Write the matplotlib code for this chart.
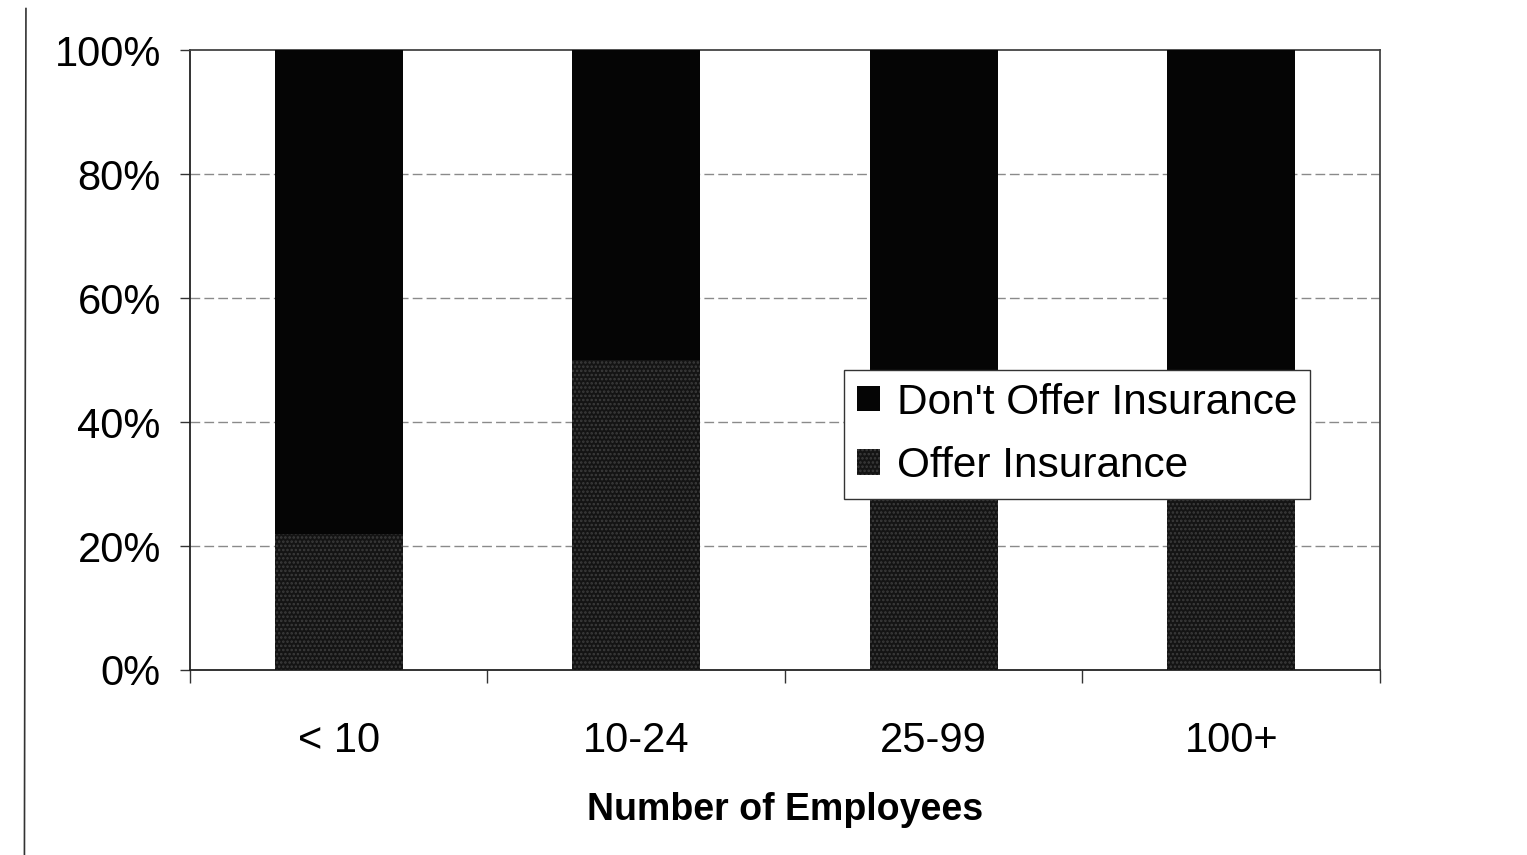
import matplotlib
matplotlib.use("Agg")
import matplotlib.pyplot as plt
import numpy as np
from matplotlib.lines import Line2D

# Share of firms by size class (percent)
categories = ["< 10", "10-24", "25-99", "100+"]
offer_pct = [22, 50, 44, 46]
dont_offer_pct = [100 - v for v in offer_pct]
y_ticks = [0, 20, 40, 60, 80, 100]
y_tick_labels = ["0%", "20%", "40%", "60%", "80%", "100%"]

plt.rcParams["font.family"] = ["Liberation Sans", "DejaVu Sans"]
plt.rcParams["hatch.linewidth"] = 1.2

fig = plt.figure(figsize=(15.27, 8.55), dpi=100)
ax = fig.add_axes([0.1244, 0.2164, 0.7793, 0.7250])

x = np.arange(len(categories))
width = 0.43

# Stacked columns: "offer" at the bottom, "don't offer" on top
b_offer = ax.bar(x, offer_pct, width, color="#141414", edgecolor="#3c3c3c",
                 hatch="....", linewidth=0, label="Offer Insurance", zorder=3)
b_dont = ax.bar(x, dont_offer_pct, width, bottom=offer_pct, color="#050505",
                edgecolor="#050505", linewidth=0, label="Don't Offer Insurance",
                zorder=3)

ax.set_xlim(-0.5, len(categories) - 0.5)
ax.set_ylim(0, 100)

# Gridlines
for yv in y_ticks[1:-1]:
    ax.axhline(yv, color="#8a8a8a", lw=1.0, ls=(0, (7, 3)), zorder=1)

# Frame
for side in ["top", "right", "left", "bottom"]:
    ax.spines[side].set_color("#222222")
    ax.spines[side].set_linewidth(1.3)
ax.spines["top"].set_color("#444444")
ax.spines["right"].set_color("#444444")

# Y axis
ax.set_yticks(y_ticks)
ax.set_yticklabels(y_tick_labels, fontsize=30)
ax.tick_params(axis="y", direction="out", length=7, width=1, pad=14,
               color="#333333")

# X axis: ticks between categories, labels centred below each column
ax.set_xticks(np.arange(len(categories) + 1) - 0.5)
ax.set_xticklabels([])
ax.tick_params(axis="x", which="major", direction="out", length=9, width=1,
               color="#333333")
ax.set_xticks(x, minor=True)
ax.set_xticklabels(categories, minor=True, fontsize=30)
ax.tick_params(axis="x", which="minor", length=0, pad=37)

ax.set_xlabel("Number of Employees", fontsize=27, fontweight="bold",
              labelpad=22)

# Legend
handles = [b_dont, b_offer]
leg = ax.legend(handles, [h.get_label() for h in handles],
                loc="upper left", bbox_to_anchor=(0.550, 0.484),
                fontsize=30.5, frameon=True, fancybox=False, framealpha=1,
                edgecolor="#333333", borderpad=0.3, labelspacing=0.55,
                handlelength=0.55, handleheight=0.55, handletextpad=0.4,
                borderaxespad=0.0)
leg.get_frame().set_linewidth(1.0)
leg.set_zorder(5)

# Page edge line at the far left
fig.add_artist(Line2D([0.017, 0.016], [0.99, 0.0], transform=fig.transFigure,
                      color="#333333", lw=1.2))

fig.savefig("out.png", dpi=100, facecolor="white")
